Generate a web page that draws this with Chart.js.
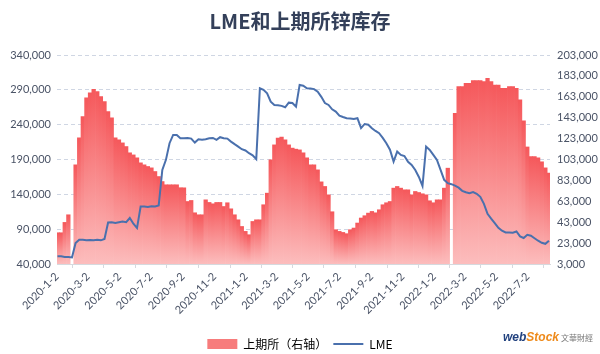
<!DOCTYPE html>
<html>
<head>
<meta charset="utf-8">
<script src="https://cdn.jsdelivr.net/npm/chart.js@4.4.1/dist/chart.umd.min.js"></script>
<style>
  html, body { margin: 0; padding: 0; background: #fff; }
</style>
</head>
<body>
<canvas id="chart" width="600" height="354"></canvas>
<script>
// weekly readings, first one is Fri 2020-01-03 (day 1 counted from 2020-01-02)
const firstDay = 1;
const tickLabels = ['2020-1-2', '2020-3-2', '2020-5-2', '2020-7-2', '2020-9-2', '2020-11-2',
  '2021-1-2', '2021-3-2', '2021-5-2', '2021-7-2', '2021-9-2', '2021-11-2',
  '2022-1-2', '2022-3-2', '2022-5-2', '2022-7-2'];

// SHFE zinc stocks (right axis), tonnes
const shfeStock = [
  32900, 32900, 42800, 50100, null, 97900, 123700, 144000, 161900, 166700,
  170200, 168000, 163200, 158400, 148800, 142800, 123700, 121800, 118900, 115400,
  109400, 107400, 104600, 99800, 97900, 96300, 95000, 91500, 86700, 81900,
  78800, 78800, 78800, 78800, 76000, 75900, 62800, 63800, 52000, 50100,
  50100, 64400, 61900, 60600, 61900, 61900, 58000, 61600, 55800, 50100,
  45300, 38900, 34200, 31000, 43700, 45300, 45300, 59700, 70800, 102700,
  117000, 123400, 124400, 121800, 117000, 113900, 112900, 112200, 109400, 104600,
  97900, 97900, 93100, 81600, 77200, 69200, 53000, 35800, 34200, 33200,
  32000, 35800, 37400, 42200, 47000, 49200, 51700, 53300, 52000, 54900,
  59700, 61600, 62800, 75600, 77200, 75600, 74000, 74000, 69200, 72400,
  71400, 70200, 69200, 63500, 61600, 64400, 64400, 75600, 94700, null,
  147300, 172700, 172700, 176000, 176000, 178500, 178500, 178500, 177500, 180700,
  177500, 174300, 174300, 171200, 171200, 172700, 172700, 171200, 160000, 140000,
  115000, 105800, 105800, 104600, 100800, 95000, 90000
];

// LME zinc stocks (left axis), tonnes
const lmeStock = [
  51000, 51000, 50000, 50000, 49500, 70000, 74800, 74800, 74000, 74500,
  74000, 74800, 74000, 76000, 99600, 100000, 99000, 100000, 101000, 100000,
  106000, 97800, 91600, 122500, 122500, 122000, 123000, 122500, 124000, 175000,
  189500, 213400, 225300, 225300, 220600, 220600, 221000, 220000, 214300, 219100,
  218500, 219000, 220600, 221000, 218100, 222000, 220600, 220000, 215700, 212000,
  208500, 204800, 203000, 199000, 196000, 190500, 292200, 290000, 285000, 273000,
  268300, 268000, 267000, 265000, 271600, 271000, 265800, 297000, 296000, 292200,
  292000, 291000, 287300, 280000, 271000, 268300, 262000, 258700, 253000, 251000,
  249200, 249000, 248000, 249200, 235000, 241000, 240000, 234900, 231000, 227700,
  221000, 213400, 204000, 187000, 201400, 196600, 195000, 186600, 182300, 175000,
  165000, 152000, 208500, 203800, 196600, 189500, 175000, 160800, 156000, 154600,
  152500, 149600, 145000, 143000, 141700, 143200, 140700, 136400, 126400, 112000,
  105000, 98800, 92000, 87700, 85300, 85300, 84900, 86700, 79600, 77300,
  82000, 80600, 77000, 73400, 70500, 69000, 73400
];

const dayZero = Date.UTC(2020, 0, 2);
const tickDays = tickLabels.map(s => {
  const [y, m, d] = s.split('-').map(Number);
  return (Date.UTC(y, m - 1, d) - dayZero) / 86400000;
});
const weekDays = shfeStock.map((_, i) => firstDay + 7 * i);

const fmt = v => Number(v).toLocaleString('en-US');
const tickColor = '#4a5366';

const watermark = {
  id: 'watermark',
  afterDraw(chart) {
    const c = chart.ctx;
    c.save();
    c.textBaseline = 'alphabetic';
    c.font = 'italic bold 12px "Liberation Sans"';
    c.fillStyle = '#22427f';
    c.fillText('web', 503, 341);
    const w = c.measureText('web').width;
    c.fillStyle = '#ee8a1a';
    c.fillText('Stock', 503 + w, 341);
    c.font = '8px "Noto Sans CJK TC"';
    c.fillStyle = '#777';
    c.fillText('文華財經', 561, 341);
    c.restore();
  }
};

new Chart(document.getElementById('chart'), {
  type: 'bar',
  data: {
    datasets: [{
      type: 'line',
      label: 'LME',
      data: lmeStock.map((v, i) => ({ x: weekDays[i], y: v })),
      yAxisID: 'y',
      borderColor: '#4a70ad',
      borderWidth: 2,
      pointRadius: 0,
      tension: 0,
      order: 1
    }, {
      type: 'bar',
      label: '上期所（右轴）',
      data: shfeStock.map((v, i) => ({ x: weekDays[i], y: v })),
      yAxisID: 'y2',
      barPercentage: 1,
      categoryPercentage: 1,
      order: 2,
      backgroundColor: (ctx) => {
        const chart = ctx.chart;
        const area = chart.chartArea;
        if (!area || ctx.type !== 'data' || !ctx.raw || ctx.raw.y == null) return '#f67a7a';
        const top = chart.scales.y2.getPixelForValue(ctx.raw.y);
        const g = chart.ctx.createLinearGradient(0, top, 0, area.bottom);
        g.addColorStop(0, '#f5585b');
        g.addColorStop(1, '#fcbdbd');
        return g;
      }
    }]
  },
  options: {
    responsive: false,
    animation: false,
    layout: { padding: { left: 0, right: 0, top: 0, bottom: -6 } },
    plugins: {
      title: {
        display: true,
        text: 'LME和上期所锌库存',
        color: '#34405a',
        font: { family: '"Noto Sans CJK SC"', size: 20, weight: 'bold' },
        padding: { top: 9, bottom: 22 }
      },
      legend: {
        position: 'bottom',
        labels: {
          color: '#505050',
          font: { family: '"Noto Sans CJK SC"', size: 12 },
          usePointStyle: true,
          pointStyleWidth: 30,
          boxHeight: 10,
          padding: 6,
          generateLabels: () => [
            { text: '上期所（右轴）', fillStyle: '#f77c7c', strokeStyle: '#f77c7c', lineWidth: 0, pointStyle: 'rect', datasetIndex: 1 },
            { text: 'LME', fillStyle: '#4a70ad', strokeStyle: '#4a70ad', lineWidth: 2, pointStyle: 'line', datasetIndex: 0 }
          ]
        }
      },
      tooltip: { enabled: false }
    },
    scales: {
      x: {
        type: 'linear',
        min: 0,
        max: 955,
        offset: false,
        afterBuildTicks: s => { s.ticks = tickDays.map(v => ({ value: v })); },
        afterFit: s => { s.height = 68; },
        ticks: {
          autoSkip: false,
          maxRotation: 45,
          minRotation: 45,
          color: tickColor,
          font: { family: 'Lato', size: 11 },
          padding: 2,
          callback: (v, i) => tickLabels[i]
        },
        grid: { drawOnChartArea: false, drawTicks: true, tickLength: 4, color: '#d6d9de' },
        border: { display: true, color: '#d6d9de' }
      },
      y: {
        position: 'left',
        min: 40000,
        max: 340000,
        afterBuildTicks: s => {
          s.ticks = [];
          for (let v = 40000; v <= 340000; v += 50000) s.ticks.push({ value: v });
        },
        afterFit: s => { s.width = 57; },
        ticks: { color: tickColor, font: { family: 'Lato', size: 11 }, padding: 6, callback: fmt },
        grid: { color: '#cfd6e3', drawTicks: false },
        border: { display: false, dash: [4, 3] }
      },
      y2: {
        position: 'right',
        min: 3000,
        max: 203000,
        afterBuildTicks: s => {
          s.ticks = [];
          for (let v = 3000; v <= 203000; v += 20000) s.ticks.push({ value: v });
        },
        afterFit: s => { s.width = 50; },
        ticks: { color: tickColor, font: { family: 'Lato', size: 11 }, padding: 7, callback: fmt },
        grid: { drawOnChartArea: false, drawTicks: false },
        border: { display: false }
      }
    }
  },
  plugins: [watermark]
});
</script>
</body>
</html>
